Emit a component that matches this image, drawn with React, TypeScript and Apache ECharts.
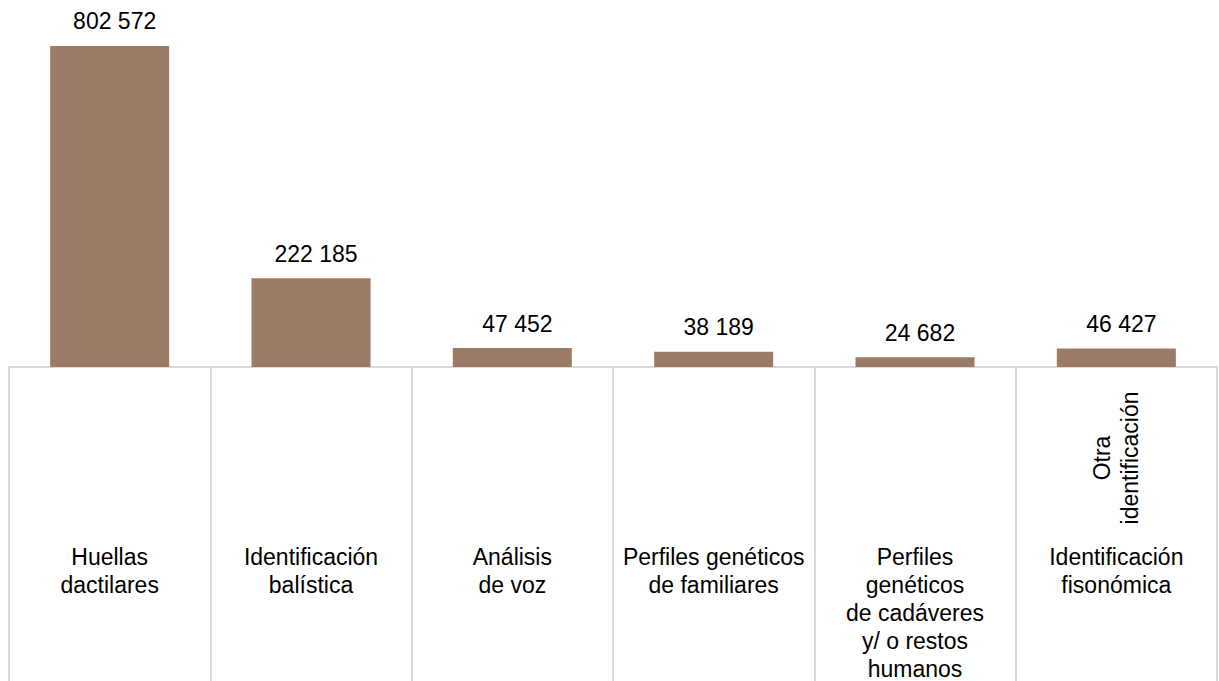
import React, { useEffect, useRef } from "react";
import * as echarts from "echarts";

const categories = [
  "Huellas\ndactilares",
  "Identificación\nbalística",
  "Análisis\nde voz",
  "Perfiles genéticos\nde familiares",
  "Perfiles\ngenéticos\nde cadáveres\ny/ o restos\nhumanos",
  "Identificación\nfisonómica",
];
const groupLabels = ["", "", "", "", "", "Otra\nidentificación"];
const values = [802572, 222185, 47452, 38189, 24682, 46427];

const fmt = (v: number) => String(v).replace(/\B(?=(\d{3})+(?!\d))/g, " ");

export default function App() {
  const ref = useRef<HTMLDivElement>(null);
  useEffect(() => {
    document.body.style.margin = "0";
    const chart = echarts.init(ref.current!, null, { renderer: "svg" });
    const font = "Liberation Sans, Arial, sans-serif";
    chart.setOption({
      animation: false,
      grid: {
        left: 9,
        right: 2,
        top: 7,
        bottom: 314,
        containLabel: false,
        outerBoundsMode: "none",
      },
      xAxis: [
        {
          type: "category",
          data: categories,
          boundaryGap: true,
          axisLine: { show: true, lineStyle: { color: "#d9d9d9", width: 2 } },
          axisTick: {
            show: true,
            alignWithLabel: false,
            length: 320,
            lineStyle: { color: "#d9d9d9", width: 2 },
          },
          axisLabel: {
            interval: 0,
            margin: 176,
            color: "#000",
            fontSize: 23,
            lineHeight: 28,
            fontFamily: font,
            align: "center",
            verticalAlign: "top",
          },
        },
        {
          type: "category",
          data: groupLabels,
          position: "bottom",
          boundaryGap: true,
          axisLine: { show: false },
          axisTick: { show: false },
          axisLabel: {
            interval: 0,
            rotate: 90,
            margin: 91,
            color: "#000",
            fontSize: 23,
            lineHeight: 28,
            fontFamily: font,
            align: "center",
            verticalAlign: "middle",
          },
        },
      ],
      yAxis: {
        type: "value",
        min: 0,
        max: 900000,
        show: false,
        splitLine: { show: false },
      },
      series: [
        {
          type: "bar",
          xAxisIndex: 0,
          data: values,
          barWidth: 119,
          itemStyle: { color: "#9b7b65" },
          label: {
            show: true,
            position: "top",
            distance: 13,
            offset: [5, 0],
            color: "#000",
            fontSize: 23,
            fontFamily: font,
            formatter: (p: any) => fmt(p.value),
          },
        },
      ],
    });
    return () => chart.dispose();
  }, []);
  return <div ref={ref} style={{ width: 1219, height: 681 }} />;
}
